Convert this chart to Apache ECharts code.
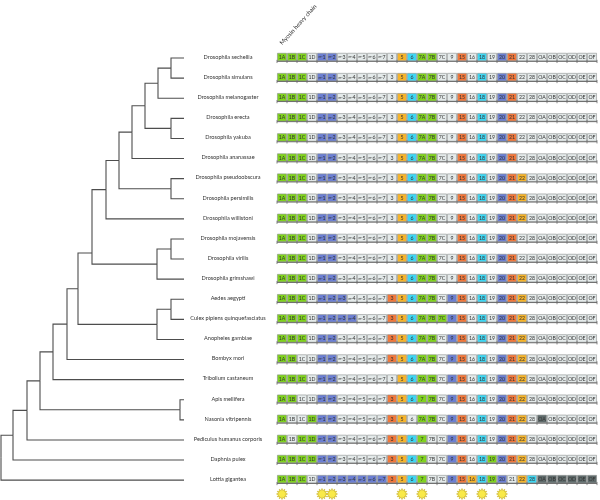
<!DOCTYPE html>
<html><head><meta charset="utf-8">
<script src="https://cdn.jsdelivr.net/npm/echarts@6/dist/echarts.min.js"></script>
<style>html,body{margin:0;padding:0;background:#fff}#c{width:600px;height:500px}</style>
</head><body><div id="c"></div>
<script>
// ---------- DATA ----------
const species = [
  "Drosophila sechellia","Drosophila simulans","Drosophila melanogaster","Drosophila erecta",
  "Drosophila yakuba","Drosophila ananassae","Drosophila pseudoobscura","Drosophila persimilis",
  "Drosophila willistoni","Drosophila mojavensis","Drosophila virilis","Drosophila grimshawi",
  "Aedes aegypti","Culex pipiens quinquefasciatus","Anopheles gambiae","Bombyx mori",
  "Tribolium castaneum","Apis mellifera","Nasonia vitripennis","Pediculus humanus corporis",
  "Daphnia pulex","Lottia gigantea"
];
const exons = ["1A","1B","1C","1D","m-1","m-2","m-3","m-4","m-5","m-6","m-7","3","5","6","7A","7B",
  "7C","9","15","16","18","19","20","21","22","28","OA","OB","OC","OD","OE","OF"];
// one letter per exon: G green, W light, B blue, O orange, Y amber, C cyan, D dark
const rowPatterns = [
  "GGGWBBWWWWWWYCGGWWOWCWBOWWWWWWWW",
  "GGGWBBWWWWWWYCGGWWOWCWBOWWWWWWWW",
  "GGGWBBWWWWWWYCGGWWOWCWBOWWWWWWWW",
  "GGGWBBWWWWWWYCGGWWOWCWBOWWWWWWWW",
  "GGGWBBWWWWWWYCGGWWOWCWBOWWWWWWWW",
  "GGGWBBWWWWWWYCGGWWOWCWBOWWWWWWWW",
  "GGGWBBWWWWWWYCGGWWOWCWBOYWWWWWWW",
  "GGGWBBWWWWWWYCGGWWOWCWBOYWWWWWWW",
  "GGGWBBWWWWWWYCGGWWOWCWBOYWWWWWWW",
  "GGGWBBWWWWWWYCGGWWOWCWBOWWWWWWWW",
  "GGGWBBWWWWWWYCGGWWOWCWBOWWWWWWWW",
  "GGGWBBWWWWWWYCGGWWOWCWBOYWWWWWWW",
  "GGGWBBBWWWWOYCGGWBOWCWBOYWWWWWWW",
  "GGGWBBBBWWWOYCGGGBOWCWBOYWWWWWWW",
  "GGGWBBWWWWWOYCGGWBOWCWBOYWWWWWWW",
  "GGWWBBWWWWWOYCGGWBOWCWBOYWWWWWWW",
  "GGGWBBWWWWWWYCGGWBOWCWBOYWWWWWWW",
  "GGWWBBWWWWWOYCGGWBOWCWBOYWWWWWWW",
  "GWWGBBWWWWWOYWGGWBOWCWBOYWDWWWWW",
  "GWGGBBWWWWWOYCGWWBOWCWBOYWWWWWWW",
  "GGGGBBWWWWWOYCGWWBOWCGBOYWWWWWWW",
  "GGGWBBBBBBBOYCGWWBOYCGBWYCDDDDDD"
];
const colorKey = {G:"#80d21e", W:"#e4eaea", B:"#6c7fd2", O:"#f1773b", Y:"#f6b42b", C:"#3fd6f2", D:"#5f6b6b"};
// rows where exon 7A is labelled just "7"
const exon7Rows = ["Apis mellifera","Pediculus humanus corporis","Daphnia pulex","Lottia gigantea"];
const starExons = ["1A","m-1","m-2","5","7A","15","18","20"];
// tree: [node, depth, child1, child2]  (tips sit at depth 183)
const tipDepth = 183;
const treeNodes = [
  ["ss",170,"Drosophila sechellia","Drosophila simulans"],
  ["mel",157,"ss","Drosophila melanogaster"],
  ["ey",170,"Drosophila erecta","Drosophila yakuba"],
  ["melsub",144,"mel","ey"],
  ["anan",131,"melsub","Drosophila ananassae"],
  ["pp",170,"Drosophila pseudoobscura","Drosophila persimilis"],
  ["soph1",118,"anan","pp"],
  ["soph",105,"soph1","Drosophila willistoni"],
  ["mv",170,"Drosophila mojavensis","Drosophila virilis"],
  ["dmvg",156,"mv","Drosophila grimshawi"],
  ["dros",91,"soph","dmvg"],
  ["ac",170,"Aedes aegypti","Culex pipiens quinquefasciatus"],
  ["culic",156,"ac","Anopheles gambiae"],
  ["dipt",77,"dros","culic"],
  ["lep",66,"dipt","Bombyx mori"],
  ["col",52,"lep","Tribolium castaneum"],
  ["hym",179,"Apis mellifera","Nasonia vitripennis"],
  ["holo",39,"col","hym"],
  ["ped",26,"holo","Pediculus humanus corporis"],
  ["daph",12,"ped","Daphnia pulex"],
  ["root",0,"daph","Lottia gigantea"]
];
const nodeRowOverride = {dros: 10.7};

// ---------- BUILD ----------
const cellData = [], cellInfo = [];
rowPatterns.forEach((p, r) => {
  for (let c = 0; c < exons.length; c++) {
    let lab = exons[c];
    if (lab === "7A" && exon7Rows.indexOf(species[r]) >= 0) lab = "7";
    cellData.push([c, r]);
    cellInfo.push({color: colorKey[p[c]], label: lab, last: c === exons.length - 1});
  }
});

const pos = {};
species.forEach((s, i) => pos[s] = {d: tipDepth, r: i + 1});
const edges = [];
treeNodes.forEach(([id, d, a, b]) => {
  const r = nodeRowOverride[id] !== undefined ? nodeRowOverride[id] : (pos[a].r + pos[b].r) / 2;
  pos[id] = {d, r};
  [a, b].forEach(ch => edges.push([[d, r], [d, pos[ch].r], [pos[ch].d, pos[ch].r]]));
});

function starPath(n, ro, ri) {
  let s = "path://";
  for (let i = 0; i < 2 * n; i++) {
    const a = Math.PI * i / n - Math.PI / 2, rr = i % 2 ? ri : ro;
    s += (i ? "L" : "M") + (50 + 50 * rr * Math.cos(a)).toFixed(2) + " " + (50 + 50 * rr * Math.sin(a)).toFixed(2);
  }
  return s + "Z";
}

const chart = echarts.init(document.getElementById("c"), null, {renderer: "canvas"});
const rowsTop = 47, rowsH = 22 * 20.1;
chart.setOption({
  animation: false,
  backgroundColor: "#fff",
  grid: [
    {left: 277, right: 3, top: rowsTop, height: rowsH},
    {left: 1, width: 183, top: rowsTop + 1, height: rowsH},
    {left: 277, right: 3, top: 488, height: 14}
  ],
  xAxis: [
    {type: "category", data: exons, gridIndex: 0, show: false},
    {type: "value", min: 0, max: tipDepth, gridIndex: 1, show: false},
    {type: "category", data: exons, gridIndex: 2, show: false}
  ],
  yAxis: [
    {type: "category", data: species, inverse: true, gridIndex: 0,
     axisLine: {show: false}, axisTick: {show: false}, splitLine: {show: false},
     axisLabel: {interval: 0, align: "center", margin: 49, fontSize: 5.6, color: "#333",
                 fontFamily: "Lato"}},
    {type: "value", min: 0.5, max: 22.5, inverse: true, gridIndex: 1, show: false},
    {type: "value", min: 0, max: 1, gridIndex: 2, show: false}
  ],
  series: [
    {
      type: "custom", xAxisIndex: 0, yAxisIndex: 0, data: cellData,
      renderItem: function (params, api) {
        const info = cellInfo[params.dataIndex];
        const c = api.coord([api.value(0), api.value(1)]);
        const sz = api.size([1, 1]);
        const pitch = sz[0], w = pitch - 0.9, h = 7.6;
        const x0 = c[0] - pitch / 2, y = c[1] - h / 2, yb = c[1] + h / 2;
        const kids = [
          {type: "rect", shape: {x: c[0] - w / 2, y: y, width: w, height: h},
           style: {fill: info.color, stroke: "#8c9090", lineWidth: 0.6}},
          {type: "line", shape: {x1: x0, y1: yb + 0.5, x2: x0 + pitch, y2: yb + 0.5},
           style: {stroke: "#6a6a6a", lineWidth: 1}},
          {type: "line", shape: {x1: x0, y1: yb - 1, x2: x0, y2: yb + 2.2},
           style: {stroke: "#6a6a6a", lineWidth: 0.8}}
        ];
        if (info.last) kids.push({type: "line", shape: {x1: x0 + pitch, y1: yb - 1, x2: x0 + pitch, y2: yb + 2.2},
           style: {stroke: "#6a6a6a", lineWidth: 0.8}});
        let txt = info.label, rich;
        if (txt.indexOf("m-") === 0) {
          txt = "{s|m-}{n|" + txt.slice(2) + "}";
          rich = {s: {fontSize: 3.4, fill: "#333", fontFamily: "Lato"}, n: {fontSize: 5.2, fill: "#333", fontFamily: "Lato"}};
        }
        kids.push({type: "text", style: {text: txt, x: c[0], y: c[1] + 0.3, align: "center", verticalAlign: "middle",
          fontSize: 5.2, fontFamily: "Lato", fill: "#333", rich: rich}});
        return {type: "group", children: kids};
      }
    },
    {
      type: "custom", xAxisIndex: 1, yAxisIndex: 1, data: edges.map((e, i) => [i]),
      renderItem: function (params, api) {
        const e = edges[params.dataIndex];
        return {type: "polyline", shape: {points: e.map(p => api.coord(p))},
                style: {stroke: "#4d4d4d", lineWidth: 1.1, fill: null}};
      }
    },
    {
      type: "scatter", xAxisIndex: 2, yAxisIndex: 2,
      data: starExons.map(e => [e, 0.5]),
      symbol: starPath(12, 1, 0.62), symbolSize: 11,
      itemStyle: {color: "#f7e51c", borderColor: "#b79b00", borderWidth: 0.6}
    }
  ],
  graphic: [
    {type: "text", x: 283, y: 46, rotation: 48 * Math.PI / 180,
     style: {text: "Myosin heavy chain", fontSize: 6, fontFamily: "Lato", fill: "#333",
             align: "left", verticalAlign: "bottom"}}
  ]
});
</script></body></html>
